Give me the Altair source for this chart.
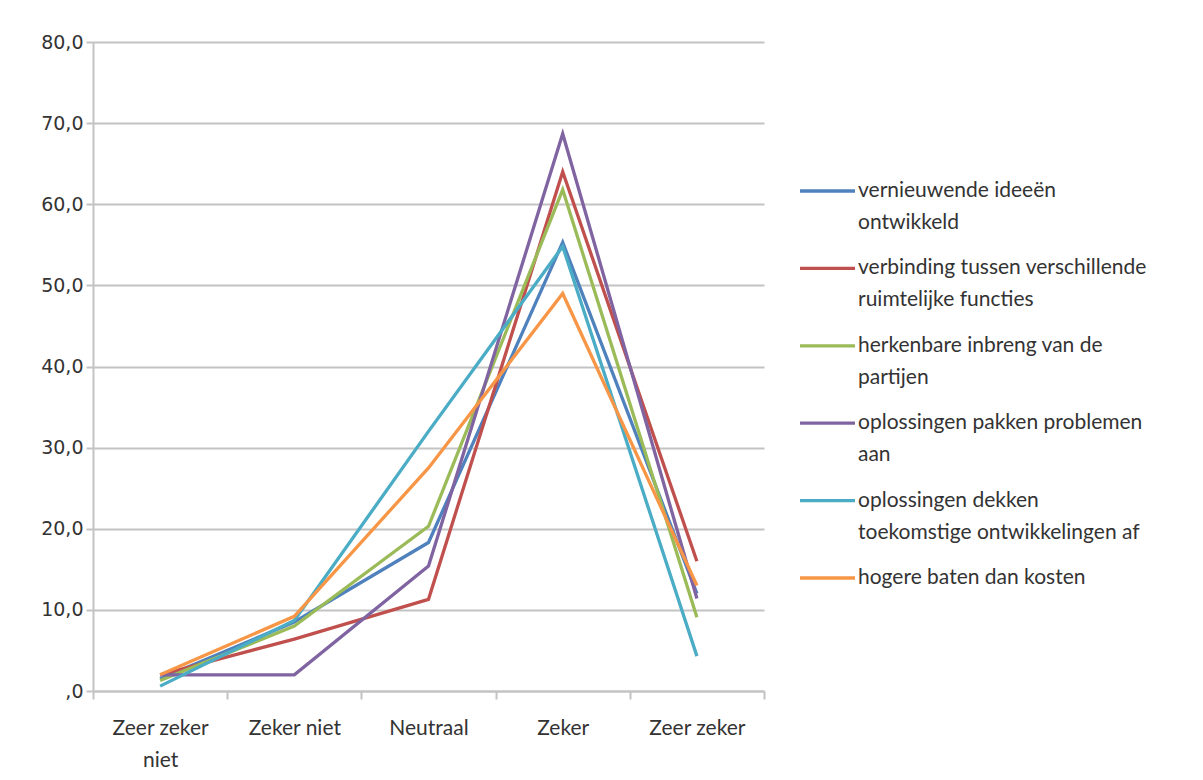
import altair as alt
import pandas as pd

categories = ["Zeer zeker niet", "Zeker niet", "Neutraal", "Zeker", "Zeer zeker"]

series_names = [
    "vernieuwende ideeën ontwikkeld",
    "verbinding tussen verschillende ruimtelijke functies",
    "herkenbare inbreng van de partijen",
    "oplossingen pakken problemen aan",
    "oplossingen dekken toekomstige ontwikkelingen af",
    "hogere baten dan kosten",
]
legend_labels = [
    "vernieuwende ideeën\nontwikkeld",
    "verbinding tussen verschillende\nruimtelijke functies",
    "herkenbare inbreng van de\npartijen",
    "oplossingen pakken problemen\naan",
    "oplossingen dekken\ntoekomstige ontwikkelingen af",
    "hogere baten dan kosten",
]
colors = ["#4F81BD", "#C0504D", "#9BBB59", "#8064A2", "#4BACC6", "#F79646"]

vals_vernieuwend = [1.5, 8.5, 18.3, 55.3, 12.0]
vals_verbinding = [2.0, 6.4, 11.3, 64.0, 16.0]
vals_herkenbaar = [1.3, 8.0, 20.3, 61.8, 9.1]
vals_pakken = [2.0, 2.0, 15.4, 68.7, 11.4]
vals_dekken = [0.6, 8.7, 32.0, 54.8, 4.3]
vals_baten = [2.0, 9.2, 27.5, 49.0, 13.0]

all_vals = [vals_vernieuwend, vals_verbinding, vals_herkenbaar,
            vals_pakken, vals_dekken, vals_baten]

rows = []
for i, (name, vals) in enumerate(zip(series_names, all_vals)):
    for c, v in zip(categories, vals):
        rows.append({"reeks": name, "categorie": c, "waarde": v, "volgorde": i})
df = pd.DataFrame(rows)

FONT = "Lato"
TXT = "#333333"
GRID = "#C3C3C3"

color_scale = alt.Scale(domain=series_names, range=colors)

lines = alt.Chart(df).mark_line(strokeWidth=3.3).encode(
    x=alt.X(
        "categorie:N", sort=categories, bandPosition=0.5,
        scale=alt.Scale(type="band", paddingInner=0, paddingOuter=0),
        axis=alt.Axis(
            title=None, labelAngle=0, tickBand="extent", grid=False,
            domainColor=GRID, domainWidth=2, tickColor=GRID, tickWidth=2,
            tickSize=8, labelPadding=18, labelFont=FONT, labelFontSize=21,
            labelColor=TXT, labelLineHeight=32, labelBaseline="top",
            labelExpr="datum.label == 'Zeer zeker niet' ? ['Zeer zeker', 'niet'] : datum.label",
        ),
    ),
    y=alt.Y(
        "waarde:Q", scale=alt.Scale(domain=[0, 80]),
        axis=alt.Axis(
            title=None, values=list(range(0, 81, 10)),
            gridColor=GRID, gridWidth=2, domainColor=GRID, domainWidth=2,
            tickColor=GRID, tickWidth=2, tickSize=7, labelPadding=3,
            labelFont="DejaVu Sans", labelFontSize=19, labelColor=TXT,
            labelExpr="datum.value == 0 ? ',0' : replace(format(datum.value, '.1f'), '.', ',')",
        ),
    ),
    color=alt.Color("reeks:N", scale=color_scale, legend=None),
    detail="volgorde:O",
).properties(width=671, height=649)

leg_df = pd.DataFrame({"reeks": series_names, "label": legend_labels})
leg_base = alt.Chart(leg_df).encode(
    y=alt.Y("reeks:N", sort=series_names, axis=None,
            scale=alt.Scale(type="point", padding=0, range=[149, 536])),
)
leg_rules = leg_base.mark_rule(strokeWidth=3.3).encode(
    x=alt.value(0), x2=alt.value(55),
    color=alt.Color("reeks:N", scale=color_scale, legend=None),
)
leg_text = leg_base.mark_text(
    align="left", baseline="middle", lineBreak="\n", lineHeight=32,
    font=FONT, fontSize=21, color=TXT,
).encode(x=alt.value(58), text="label:N")
legend = (leg_rules + leg_text).properties(width=390, height=649)

chart = alt.hconcat(lines, legend, spacing=33).properties(
    padding={"left": 40, "top": 33, "right": 5, "bottom": 5},
    background="white",
).configure_view(stroke=None)

chart.save("out.html", embed_options={"renderer": "svg", "actions": False})
